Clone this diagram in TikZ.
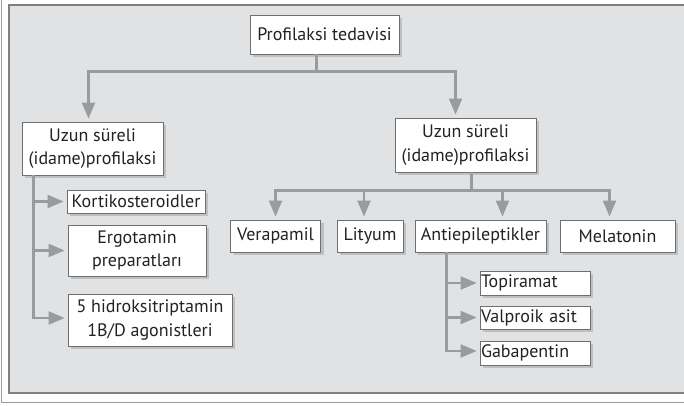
\documentclass[tikz,border=0pt]{standalone}
\usepackage{fontspec}
\setmainfont{PT Sans}
\usepackage{xcolor}
\usepackage{tikz}
\usetikzlibrary{calc,arrows.meta,positioning,shadows}
\definecolor{panelc}{HTML}{E1E2E4}
\definecolor{framec}{HTML}{7E7F81}
\definecolor{linec}{HTML}{9A9B9D}
\definecolor{boxc}{HTML}{6E6F71}
\definecolor{shadc}{HTML}{BFC0C2}
\definecolor{txtc}{HTML}{222222}
\tikzset{
  ar/.style={-{Triangle[length=16pt,width=13pt]},line width=2.2pt,linec,shorten >=3pt},
  ln/.style={line width=2.2pt,linec},
  box/.style={draw=boxc,line width=0.9pt,fill=white,align=center,inner sep=1pt,text=txtc,
    font=\fontsize{18}{23.5}\selectfont,
    drop shadow={shadow xshift=3pt,shadow yshift=-3pt,fill=shadc,opacity=1}},
  lbox/.style={box,align=left}
}

\begin{document}
\begin{tikzpicture}[x=1pt,y=-1pt]
\useasboundingbox (0,0) rectangle (684,406);
\draw[linec,line width=1pt] (1.5,0)--(1.5,402)--(684,402);
\draw[framec,fill=panelc,line width=1.6pt] (9,5) rectangle (700,393);
% nodes
\node[box,minimum width=149pt,minimum height=39pt] (prof) at (324.5,34.5) {Profilaksi tedavisi};
\node[box,minimum width=141pt,minimum height=53pt] (uzunL) at (92.5,148.5) {Uzun süreli\\(idame)profilaksi};
\node[box,minimum width=141pt,minimum height=54pt] (uzunR) at (465.5,145) {Uzun süreli\\(idame)profilaksi};
\node[box,minimum width=138pt,minimum height=23pt] (kort) at (136,201.5) {Kortikosteroidler};
\node[box,minimum width=138pt,minimum height=51pt] (ergo) at (137,250.5) {Ergotamin\\preparatları};
\node[box,minimum width=164pt,minimum height=52pt] (hidr) at (150,320) {5 hidroksitriptamin\\1B/D agonistleri};
\node[box,minimum width=90pt,minimum height=32pt] (vera) at (275.5,236) {Verapamil};
\node[box,minimum width=66pt,minimum height=32pt] (lity) at (370,236) {Lityum};
\node[box,minimum width=131pt,minimum height=32pt] (anti) at (480.5,236) {Antiepileptikler};
\node[box,minimum width=115pt,minimum height=32pt] (mela) at (617.5,236) {Melatonin};
\node[lbox,text width=108pt,minimum height=24pt] (topi) at (535,283) {Topiramat};
\node[lbox,text width=108pt,minimum height=23pt] (valp) at (535,317.5) {Valproik asit};
\node[lbox,text width=108pt,minimum height=24pt] (gaba) at (535,353) {Gabapentin};
% connectors
\draw[ln] ([xshift=-8pt]prof.south) -- ++(0,17) coordinate (pb);
\draw[ar] (pb) -| ([xshift=-4pt]uzunL.north);
\draw[ar] (pb) -| ([xshift=-10pt]uzunR.north);
\draw[ln] ([xshift=6pt]uzunR.south) -- ++(0,18) coordinate (rb);
\draw[ar] (rb) -| (vera.north);
\draw[ar] (rb) -| ([xshift=-6pt]lity.north);
\draw[ar] (rb) -| ([xshift=22pt]anti.north);
\draw[ar] (rb) -| ([xshift=-8pt]mela.north);
\coordinate (lt) at ($(uzunL.south west)+(12,0)$);
\draw[ar] (lt) |- (kort.west);
\draw[ar] (lt) |- (ergo.west);
\draw[ar] (lt) |- ([yshift=2pt]hidr.west);
\coordinate (at) at ($(anti.south west)+(32,0)$);
\draw[ar] (at) |- (topi.west);
\draw[ar] (at) |- (valp.west);
\draw[ar] (at) |- ([yshift=2pt]gaba.west);
\end{tikzpicture}
\end{document}
